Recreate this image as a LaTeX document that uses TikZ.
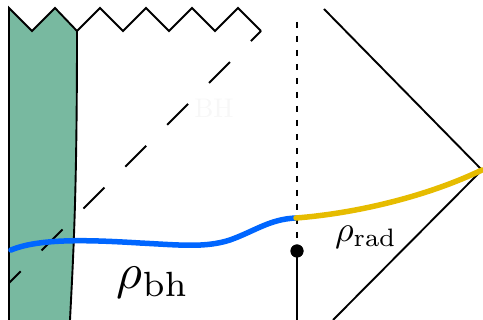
\documentclass[tikz,border=0pt]{standalone}
\usepackage{graphicx}
\definecolor{wallgreen}{RGB}{120,185,160}
\definecolor{curveblue}{RGB}{0,102,255}
\definecolor{curveyellow}{RGB}{230,188,0}
\begin{document}
\begin{tikzpicture}[x=1pt,y=-1pt,
  edge/.style={line width=1.9pt,line join=miter},
  horizon/.style={line width=1.9pt,dash pattern=on 29.6pt off 29.6pt,dash phase=15.3pt},
  axisdash/.style={line width=1.9pt,dash pattern=on 6.5pt off 7.5pt},
  slice/.style={line width=5.5pt,line cap=round},
  lbl/.style={inner sep=0pt}]
\useasboundingbox (0,0) rectangle (483,320);
% green region
\coordinate (gTL) at (9,8);
\coordinate (gTR) at (77,31);
\coordinate (gBR) at (70,320);
\coordinate (gBL) at (9,320);
\fill[wallgreen] (gBL) -- (gTL) -- (32,31) -- (55,8) -- (gTR)
   .. controls (77,200) and (73,260) .. (gBR) -- cycle;
\draw[edge] (gBL) -- (gTL) -- (32,31) -- (55,8) -- (gTR);
\draw[edge] (gTR) .. controls (77,200) and (73,260) .. (gBR);
% singularity zigzag
\coordinate (zEnd) at (261,31);
\draw[edge] (gTR) -- (100,8) -- (123,31) -- (146,8) -- (169,31) -- (192,8) -- (215,31) -- (238,8) -- (zEnd);
% horizon
\coordinate (hEnd) at (9,283);
\draw[horizon] (zEnd) -- (hEnd);
% faint BH label
\node[lbl,text=black!3] (bh) at (214,108) {\scalebox{2.7}{BH}};
% right wedge
\coordinate (rTop) at (324,9);
\coordinate (rTip) at (482,170);
\coordinate (rBot) at (333,320);
\draw[edge] (rTop) -- (rTip) -- (rBot);
% vertical line
\coordinate (vTop) at (297,22);
\coordinate (vBot) at (297,320);
\node[circle,fill=black,inner sep=0pt,minimum size=13pt] (dot) at (297,251) {};
\draw[axisdash] (vTop) -- (dot.center);
\draw[edge] (dot.center) -- (vBot);
% curves
\coordinate (bStart) at (11,250);
\coordinate (mid) at (296,218);
\draw[slice,curveblue] (bStart) .. controls (40,238) and (90,240) .. (140,243)
   .. controls (180,245) and (205,248) .. (230,240)
   .. controls (255,231) and (270,219) .. (mid);
\draw[slice,curveyellow] (mid) .. controls (360,213) and (430,195) .. (rTip);
\node[circle,fill=black,inner sep=0pt,minimum size=13pt] at (dot) {};
% labels
\node[lbl] (rbh) at (153,283) {\scalebox{5}{$\rho_{\mathrm{bh}}$}};
\node[lbl] (rrad) at (366,237) {\scalebox{3.6}{$\rho_{\mathrm{rad}}$}};
\end{tikzpicture}
\end{document}
